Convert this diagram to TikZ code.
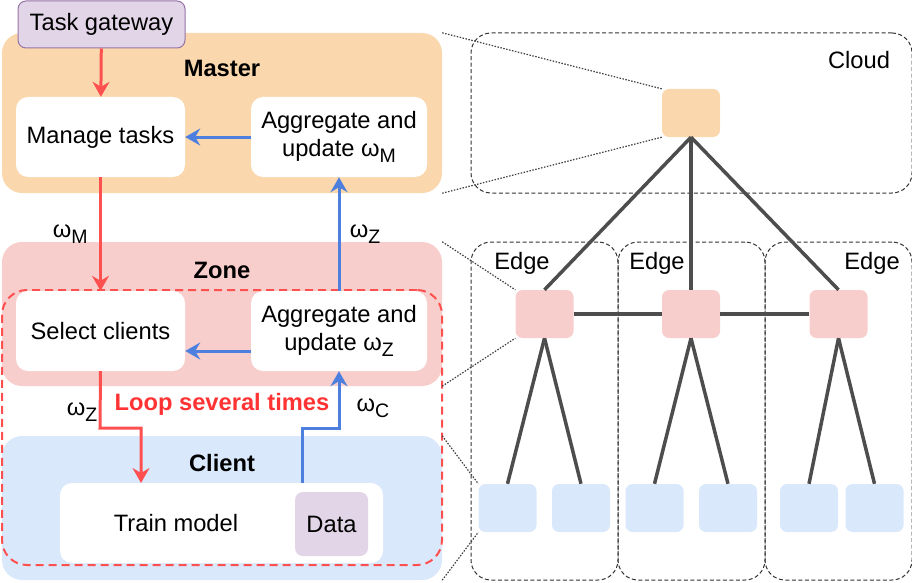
\documentclass[tikz,border=0pt]{standalone}
\usepackage{fontspec}
\setmainfont{Liberation Sans}
\usetikzlibrary{arrows.meta}
\definecolor{masterc}{HTML}{FAD7AC}
\definecolor{zonec}{HTML}{F8CECC}
\definecolor{clientc}{HTML}{DAE8FC}
\definecolor{datac}{HTML}{E1D5E7}
\definecolor{datad}{HTML}{9673A6}
\definecolor{redc}{HTML}{FF5050}
\definecolor{loopc}{HTML}{FF3333}
\definecolor{bluec}{HTML}{4D80DE}
\definecolor{linkc}{HTML}{4D4D4D}
\newcommand{\subl}[1]{\raisebox{-6pt}{\fontsize{19.5}{19.5}\selectfont #1}}
\tikzset{
  txt/.style={font=\fontsize{23.7}{28}\selectfont},
  title/.style={font=\fontsize{23.7}{28}\selectfont\bfseries},
  lay/.style={shape=rectangle, rounded corners=20pt, inner sep=0pt, minimum width=440pt},
  box/.style={shape=rectangle, fill=white, rounded corners=12pt, inner sep=0pt, minimum height=80pt, align=center},
  dev/.style={shape=rectangle, rounded corners=7pt, inner sep=0pt, minimum width=58pt, minimum height=48pt},
  area/.style={shape=rectangle, draw=black!80, line width=1pt, dash pattern=on 4pt off 2.5pt, rounded corners=20pt, inner sep=0pt},
  redarr/.style={draw=redc, line width=3pt, -{Stealth[length=15pt,width=17pt,inset=5pt]}},
  bluearr/.style={draw=bluec, line width=3pt, -{Stealth[length=15pt,width=17pt,inset=5pt]}},
  link/.style={draw=linkc, line width=3.5pt},
  zoomline/.style={draw=black!75, line width=1.2pt, dash pattern=on 1.5pt off 1.5pt}
}
\begin{document}
\begin{tikzpicture}[x=1pt, y=-1pt, every node/.style={txt}]
\useasboundingbox (0,0) rectangle (912,583);

% left: layers
\node[lay, fill=masterc, minimum height=160pt] (master) at (222,113) {};
\node[lay, fill=zonec, minimum height=144pt] (zone) at (222,314) {};
\node[lay, fill=clientc, minimum height=144pt] (client) at (222,508) {};
\node[lay, draw=redc, line width=2pt, dash pattern=on 8pt off 5pt, rounded corners=25pt, minimum height=275pt] (loop) at (222,427.5) {};

\node[title] (mastert) at (222,68) {Master};
\node[title] (zonet) at (222,270) {Zone};
\node[title] (clientt) at (222,463) {Client};

\node[shape=rectangle, draw=datad, fill=datac, line width=1pt, rounded corners=8pt, minimum width=167pt, minimum height=47pt] (gate) at (101.5,24.5) {Task gateway};
\node[box, minimum width=169pt] (manage) at (100.5,137) {Manage tasks};
\node[box, minimum width=176pt] (aggm) at (339,137) {Aggregate and\\update ω\subl{M}};
\node[box, minimum width=169pt] (select) at (100.5,331) {Select clients};
\node[box, minimum width=176pt] (aggz) at (339,331) {Aggregate and\\update ω\subl{Z}};
\node[box, minimum width=323pt] (train) at (221.5,523) {};
\node (trainl) at (176,523) {Train model};
\node[shape=rectangle, fill=datac, rounded corners=8pt, minimum width=73pt, minimum height=64pt] (data) at (331.5,524) {Data};
\coordinate (tin) at (141,483);
\coordinate (dout) at (302,483);

\draw[redarr] (gate) -- (manage);
\draw[bluearr] (aggm) -- (manage);
\draw[redarr] (manage) -- (select) node[midway, left=8pt] {ω\subl{M}};
\draw[bluearr] (aggz) -- (aggm) node[midway, right=6pt] {ω\subl{Z}};
\draw[bluearr] ([yshift=-20pt]aggz.west) -- ([yshift=-20pt]select.east);
\draw[redarr] (select.south) -- (100,428) -| (tin);
\draw[bluearr] (dout) -- (302,428) -| (aggz.south);
\node (wz) at (82,412) {ω\subl{Z}};
\node (wc) at (373,408) {ω\subl{C}};
\node[title, text=loopc] (loopt) at (222,404) {Loop several times};

% right: cloud, edges, clients
\node[area, minimum width=441pt, minimum height=160pt] (cloudbox) at (691.5,113) {};
\node[area, minimum width=147pt, minimum height=338pt] (edge1) at (544.5,411) {};
\node[area, minimum width=147pt, minimum height=338pt] (edge2) at (691.5,411) {};
\node[area, minimum width=147pt, minimum height=338pt] (edge3) at (838.5,411) {};
\node (cloudt) at (859,60) {Cloud};
\node (edget1) at (522,263) {Edge};
\node (edget2) at (657,263) {Edge};
\node (edget3) at (872,263) {Edge};

\node[dev, fill=masterc] (cl) at (691,113) {};
\node[dev, fill=zonec] (e1) at (544.5,314) {};
\node[dev, fill=zonec] (e2) at (691,314) {};
\node[dev, fill=zonec] (e3) at (838.5,314) {};
\node[dev, fill=clientc] (c1) at (507.5,508) {};
\node[dev, fill=clientc] (c2) at (581,508) {};
\node[dev, fill=clientc] (c3) at (654.5,508) {};
\node[dev, fill=clientc] (c4) at (728,508) {};
\node[dev, fill=clientc] (c5) at (809,508) {};
\node[dev, fill=clientc] (c6) at (874.5,508) {};

\draw[link] (cl.south) -- (e1.north);
\draw[link] (cl.south) -- (e2.north);
\draw[link] (cl.south) -- (e3.north);
\draw[link] (e1) -- (e2);
\draw[link] (e2) -- (e3);
\draw[link] (e1.south) -- (c1.north);
\draw[link] (e1.south) -- (c2.north);
\draw[link] (e2.south) -- (c3.north);
\draw[link] (e2.south) -- (c4.north);
\draw[link] (e3.south) -- (c5.north);
\draw[link] (e3.south) -- (c6.north);

\draw[zoomline] (master.north east) -- (cl.north west);
\draw[zoomline] (master.south east) -- (cl.south west);
\draw[zoomline] (zone.north east) -- (e1.north west);
\draw[zoomline] (zone.south east) -- (e1.south west);
\draw[zoomline] (client.north east) -- (c1.north west);
\draw[zoomline] (client.south east) -- (c1.south west);

\end{tikzpicture}
\end{document}
